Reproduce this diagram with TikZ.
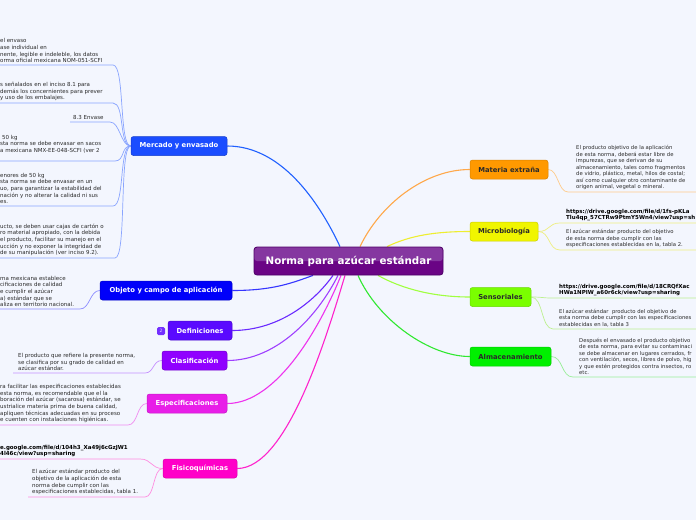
\documentclass[tikz,border=0pt]{standalone}
\usepackage{fontspec}
\setmainfont{DejaVu Sans}
\usetikzlibrary{calc}
\pgfdeclarelayer{background}
\pgfsetlayers{background,main}
\definecolor{bg}{HTML}{F3F6FE}
\definecolor{txt}{HTML}{2A2A2A}
\definecolor{mainhi}{HTML}{8537A0}
\definecolor{mainlo}{HTML}{6A0485}
\definecolor{mainb}{HTML}{4D0066}
\definecolor{mer}{HTML}{1A4DFF}\definecolor{merl}{HTML}{2060FF}\definecolor{merc}{HTML}{8AA5FF}
\definecolor{obj}{HTML}{0000FA}\definecolor{objl}{HTML}{3535FF}\definecolor{objc}{HTML}{8C8CFF}
\definecolor{def}{HTML}{5A0AFF}\definecolor{defl}{HTML}{6A2AFF}
\definecolor{cla}{HTML}{9000FF}\definecolor{clal}{HTML}{9F40FF}\definecolor{clac}{HTML}{C590FF}
\definecolor{esp}{HTML}{E81EE8}\definecolor{espl}{HTML}{EE33EE}\definecolor{espc}{HTML}{F08CF0}
\definecolor{fis}{HTML}{FF00C8}\definecolor{fisl}{HTML}{FF22CC}\definecolor{fisc}{HTML}{FF8CE0}
\definecolor{mat}{HTML}{FF9900}\definecolor{matl}{HTML}{FFA84A}\definecolor{matc}{HTML}{FFCB8A}
\definecolor{mic}{HTML}{F0F500}\definecolor{micl}{HTML}{EEEE30}\definecolor{micc}{HTML}{EEEE80}
\definecolor{sen}{HTML}{7AFF00}\definecolor{senl}{HTML}{A0FF40}\definecolor{senc}{HTML}{BDF090}
\definecolor{alm}{HTML}{00F000}\definecolor{alml}{HTML}{30E830}\definecolor{almc}{HTML}{9AEE9A}
\tikzset{
 mainnode/.style={rounded corners=3pt, minimum width=189pt, minimum height=28pt, inner sep=0pt,
   draw=mainb, fill=mainlo, line width=0.8pt, text=white, font=\fontsize{10.3}{12}\selectfont\bfseries,
   path picture={\fill[mainhi] (path picture bounding box.north west) rectangle (path picture bounding box.east);}},
 branch/.style={rounded corners=2.5pt, inner sep=0pt, minimum height=19pt, text=white,
   font=\fontsize{6.8}{8}\selectfont\bfseries, line width=0.5pt},
 rbranch/.style={branch, text=txt},
 leaf/.style={anchor=south west, inner xsep=0pt, inner ysep=2pt, align=left,
   font=\fontsize{5.5}{6.6}\selectfont, text=txt},
 rleaf/.style={leaf, font=\fontsize{5.3}{6.5}\selectfont},
 linkleaf/.style={leaf, font=\fontsize{5.5}{6.2}\selectfont\bfseries, text=black},
 trunk/.style={line width=1.1pt},
 twig/.style={line width=0.7pt},
 badge/.style={rounded corners=1.5pt, fill=def!85!white, minimum size=8pt, inner sep=0pt,
   text=white!85!def, font=\fontsize{4.5}{5}\selectfont},
}
\begin{document}
\begin{tikzpicture}[x=1pt,y=-1pt]
\begin{pgfonlayer}{background}
\fill[bg] (0,0) rectangle (696,520);
\end{pgfonlayer}
\useasboundingbox (0,0) rectangle (696,520);

% central node
\node[mainnode] (main) at (348.5,261) {Norma para azúcar estándar};

% left branches
\node[branch, fill=mer, draw=mer!80!black, minimum width=96pt] (mer) at (179,146) {Mercado y envasado};
\node[branch, fill=obj, draw=obj!80!black, minimum width=132pt] (obj) at (166,290.5) {Objeto y campo de aplicación};
\node[branch, fill=def, draw=def!80!black, minimum width=64pt] (def) at (200,330.5) {Definiciones};
\node[badge] (b2) at (161,331) {2};
\node[branch, fill=cla, draw=cla!80!black, minimum width=65pt] (cla) at (194.5,360.5) {Clasificación};
\node[branch, fill=esp, draw=esp!85!black, minimum width=80pt] (esp) at (187,403.5) {Especificaciones};
\node[branch, fill=fis, draw=fis!85!black, minimum width=74pt] (fis) at (200,468.5) {Fisicoquímicas};

% right branches
\node[rbranch, fill=mat, draw=mat!85!black, minimum width=78pt] (mat) at (509,169.5) {Materia extraña};
\node[rbranch, fill=mic, draw=mic!85!black, minimum width=68pt] (mic) at (504,231.5) {Microbiología};
\node[rbranch, fill=sen, draw=sen!85!black, minimum width=61pt] (sen) at (500.5,297) {Sensoriales};
\node[rbranch, fill=alm, draw=alm!85!black, minimum width=81pt] (alm) at (510.5,356.5) {Almacenamiento};

% left leaves
\node[leaf] (m1) at (0,65) {el envaso\\ase individual en\\nente, legible e indeleble, los datos\\orma oficial mexicana NOM-051-SCFI};
\node[leaf] (m2) at (0,103) {s señalados en el inciso 8.1 para\\\mbox{}demás los concernientes para prever\\\mbox{}y uso de los embalajes.};
\node[leaf] (m3) at (73,122) {8.3 Envase};
\node[leaf] (m4) at (0,161) {\kern2pt\relax 50 kg\\sta norma se debe envasar en sacos\\a mexicana NMX-EE-048-SCFI (ver 2\\\mbox{}};
\node[leaf] (m5) at (0,206) {enores de 50 kg\\sta norma se debe envasar en un\\uo, para garantizar la estabilidad del\\nación y no alterar la calidad ni sus\\es.};
\node[leaf] (m6) at (0,258) {ucto, se deben usar cajas de cartón o\\ro material apropiado, con la debida\\el producto, facilitar su manejo en el\\ucción y no exponer la integridad de\\de su manipulación (ver inciso 9.2).};
\node[leaf] (o1) at (0,309) {ma mexicana establece\\cificaciones de calidad\\e cumplir el azúcar\\a) estándar que se\\aliza en territorio nacional.};
\node[leaf] (c1) at (18,373) {El producto que refiere la presente norma,\\se clasifica por su grado de calidad en\\azúcar estándar.};
\node[leaf] (e1) at (0,425) {ra facilitar las especificaciones establecidas\\esta norma, es recomendable que el la\\boración del azúcar (sacarosa) estándar, se\\ustrialice materia prima de buena calidad,\\apliquen técnicas adecuadas en su proceso\\e cuenten con instalaciones higiénicas.};
\node[linkleaf] (f1) at (0,459) {e.google.com/file/d/104h3\_Xa49j6cGzJW1\\4l46c/view?usp=sharing};
\node[leaf] (f2) at (32,497) {El azúcar estándar producto del\\objetivo de la aplicación de esta\\norma debe cumplir con las\\especificaciones establecidas, tabla 1.};

% right leaves
\node[rleaf] (r1) at (576,192) {El producto objetivo de la aplicación\\de esta norma, deberá estar libre de\\impurezas, que se derivan de su\\almacenamiento, tales como fragmentos\\de vidrio, plástico, metal, hilos de costal;\\así como cualquier otro contaminante de\\origen animal, vegetal o mineral.};
\node[linkleaf] (r2) at (566,223) {https://drive.google.com/file/d/1fs-pKLa\\Tlu4qp\_57CTRw9PtmY5Wn4/view?usp=sh};
\node[rleaf] (r3) at (566,250) {El azúcar estándar producto del objetivo\\de esta norma debe cumplir con las\\especificaciones establecidas en la, tabla 2.};
\node[linkleaf] (r4) at (559,298) {https://drive.google.com/file/d/18CRQfXac\\HWa1NPIW\_a60r6ck/view?usp=sharing};
\node[rleaf] (r5) at (559,329) {El azúcar estándar\ \ producto del objetivo de\\esta norma debe cumplir con las especificaciones\\establecidas en la, tabla 3};
\node[rleaf] (r6) at (579,377) {Después el envasado el producto objetivo\\de esta norma, para evitar su contaminaci\\se debe almacenar en lugares cerrados, fr\\con ventilación, secos, libres de polvo, hig\\y que estén protegidos contra insectos, ro\\etc.};

\begin{pgfonlayer}{background}
% trunks
\draw[trunk, merl] (mer.east) .. controls +(53,0) and +(-22,-47) .. ([xshift=-8.5pt]main.north);
\draw[trunk, matl] ([xshift=11.5pt]main.north) .. controls +(20,-42) and +(-45,0) .. (mat.west);
\draw[trunk, micl] ([xshift=38.5pt]main.north) .. controls +(23,-11) and +(-35,0) .. (mic.west);
\draw[trunk, senl] ([xshift=29.5pt]main.south) .. controls +(25,14) and +(-35,0) .. (sen.west);
\draw[trunk, alml] ([xshift=9.5pt]main.south) .. controls +(20,45) and +(-40,0) .. (alm.west);
\draw[trunk, objl] (obj.east) .. controls +(40,0) and +(-22,8) .. ([xshift=-35.5pt]main.south);
\draw[trunk, defl] (def.east) .. controls +(45,0) and +(-20,28) .. ([xshift=-15.5pt]main.south);
\draw[trunk, clal] (cla.east) .. controls +(50,0) and +(-20,40) .. ([xshift=-10.5pt]main.south);
\draw[trunk, espl] (esp.east) .. controls +(50,0) and +(-20,50) .. ([xshift=-7.5pt]main.south);
\draw[trunk, fisl] (fis.east) .. controls +(50,0) and +(-18,60) .. ([xshift=-3.5pt]main.south);
% left twigs
\draw[twig, merc] (m1.south west) -- ++(113,0) .. controls +(12,0) and +(-12,0) .. (mer.west);
\draw[twig, merc] (m2.south west) -- ++(113,0) .. controls +(12,0) and +(-12,0) .. (mer.west);
\draw[twig, merc] ([xshift=-3pt]m3.south west) -- ++(40,0) .. controls +(10,0) and +(-10,0) .. (mer.west);
\draw[twig, merc] (m4.south west) -- ++(115,0) .. controls +(10,0) and +(-10,0) .. (mer.west);
\draw[twig, merc] (m5.south west) -- ++(113,0) .. controls +(12,0) and +(-12,0) .. (mer.west);
\draw[twig, merc] (m6.south west) -- ++(115,0) .. controls +(12,0) and +(-12,0) .. (mer.west);
\draw[twig, objc] (o1.south west) -- ++(80,0) .. controls +(10,0) and +(-10,0) .. (obj.west);
\draw[twig, clac] ([xshift=-5pt]c1.south west) -- ++(132,0) .. controls +(9,0) and +(-9,0) .. (cla.west);
\draw[twig, espc] (e1.south west) -- ++(128,0) .. controls +(10,0) and +(-10,0) .. (esp.west);
\draw[twig, fisc] (f1.south west) -- ++(140,0) .. controls +(12,0) and +(-12,0) .. (fis.west);
\draw[twig, fisc] ([xshift=-4pt]f2.south west) -- ++(117,0) .. controls +(10,0) and +(-10,0) .. (fis.west);
% right twigs
\draw[twig, matc] (mat.east) .. controls +(10,0) and +(-10,0) .. ([xshift=-8pt]r1.south west) -- ++(140,0);
\draw[twig, micc] (mic.east) .. controls +(12,0) and +(-12,0) .. ([xshift=-6pt]r2.south west) -- ++(140,0);
\draw[twig, micc] (mic.east) .. controls +(12,0) and +(-12,0) .. ([xshift=-6pt]r3.south west) -- ++(140,0);
\draw[twig, senc] (sen.east) .. controls +(12,0) and +(-12,0) .. ([xshift=-6pt]r4.south west) -- ++(150,0);
\draw[twig, senc] (sen.east) .. controls +(12,0) and +(-12,0) .. ([xshift=-6pt]r5.south west) -- ++(150,0);
\draw[twig, almc] (alm.east) .. controls +(12,0) and +(-12,0) .. ([xshift=-6pt]r6.south west) -- ++(130,0);
\end{pgfonlayer}
\end{tikzpicture}
\end{document}
